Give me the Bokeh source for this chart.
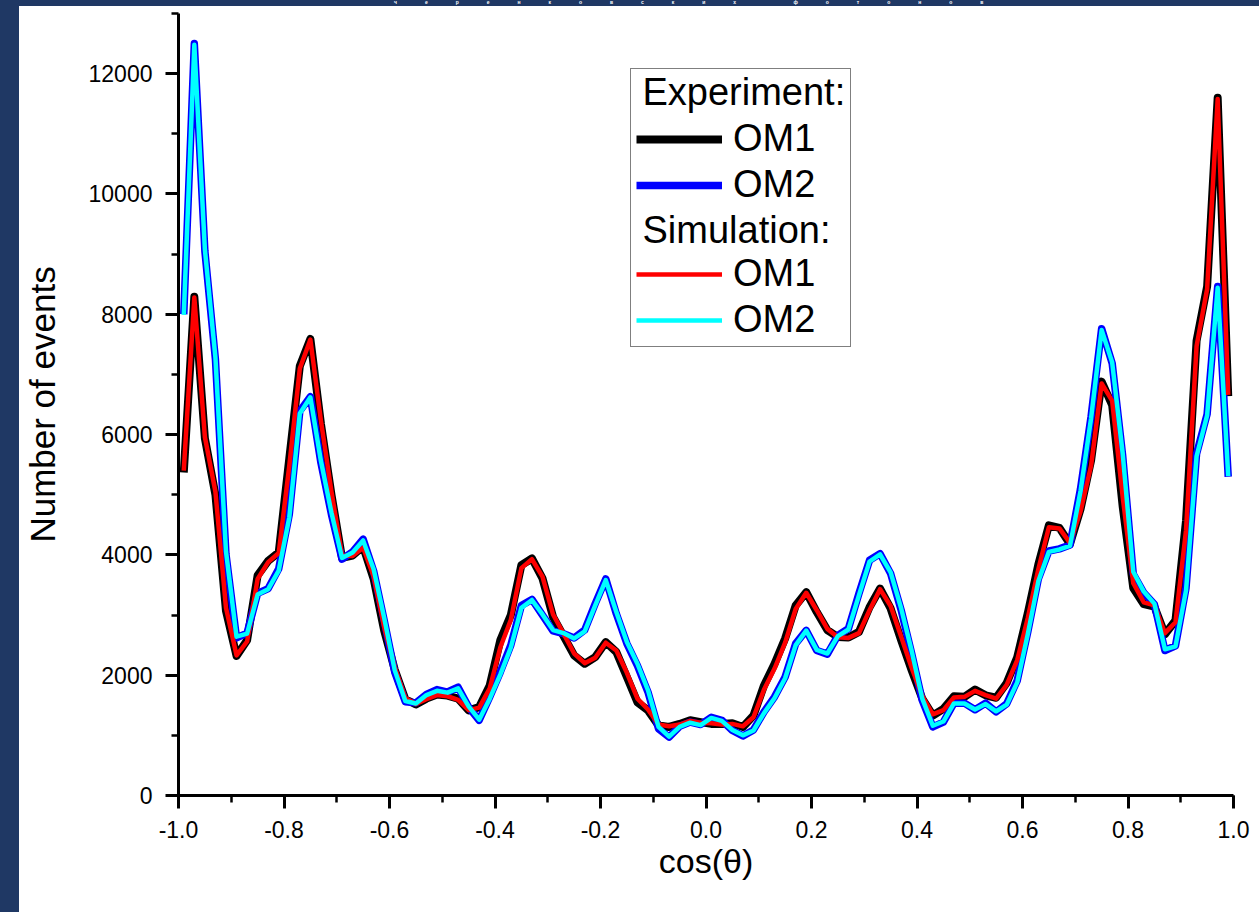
from bokeh.plotting import figure
from bokeh.models import (Range1d, Legend, LegendItem, Label, Div,
                          SingleIntervalTicker, NumeralTickFormatter)
from bokeh.layouts import column, row
from bokeh.embed import file_html
from bokeh.resources import INLINE

# ---------------- data ----------------
cos_theta = [-0.99, -0.97, -0.95, -0.93, -0.91, -0.89, -0.87, -0.85, -0.83, -0.81,
             -0.79, -0.77, -0.75, -0.73, -0.71, -0.69, -0.67, -0.65, -0.63, -0.61,
             -0.59, -0.57, -0.55, -0.53, -0.51, -0.49, -0.47, -0.45, -0.43, -0.41,
             -0.39, -0.37, -0.35, -0.33, -0.31, -0.29, -0.27, -0.25, -0.23, -0.21,
             -0.19, -0.17, -0.15, -0.13, -0.11, -0.09, -0.07, -0.05, -0.03, -0.01,
             0.01, 0.03, 0.05, 0.07, 0.09, 0.11, 0.13, 0.15, 0.17, 0.19,
             0.21, 0.23, 0.25, 0.27, 0.29, 0.31, 0.33, 0.35, 0.37, 0.39,
             0.41, 0.43, 0.45, 0.47, 0.49, 0.51, 0.53, 0.55, 0.57, 0.59,
             0.61, 0.63, 0.65, 0.67, 0.69, 0.71, 0.73, 0.75, 0.77, 0.79,
             0.81, 0.83, 0.85, 0.87, 0.89, 0.91, 0.93, 0.95, 0.97, 0.99]

exp_om1 = [5370, 8290, 5940, 5000, 3070, 2320, 2580, 3660, 3900, 4040,
           5600, 7140, 7590, 6180, 5000, 3950, 3990, 4140, 3600, 2740,
           2090, 1600, 1515, 1610, 1680, 1660, 1610, 1415, 1470, 1830,
           2580, 3000, 3830, 3940, 3610, 2970, 2650, 2330, 2190, 2300,
           2550, 2385, 1970, 1550, 1415, 1165, 1140, 1190, 1250, 1220,
           1190, 1190, 1200, 1140, 1330, 1830, 2190, 2610, 3160, 3380,
           3050, 2750, 2635, 2625, 2720, 3130, 3440, 3110, 2580, 2080,
           1610, 1330, 1440, 1650, 1640, 1760, 1665, 1625, 1870, 2300,
           3030, 3840, 4490, 4450, 4180, 4760, 5570, 6880, 6490, 4800,
           3450, 3180, 3140, 2680, 2910, 4570, 7560, 8460, 11600, 6640]

exp_om2 = [8000, 12500, 9050, 7250, 4010, 2620, 2700, 3360, 3440, 3770,
           4670, 6390, 6630, 5530, 4670, 3930, 4050, 4260, 3730, 2910,
           2050, 1560, 1540, 1680, 1760, 1720, 1800, 1470, 1250, 1640,
           2050, 2500, 3160, 3260, 3000, 2735, 2690, 2620, 2750, 3190,
           3600, 3020, 2525, 2160, 1720, 1110, 970, 1150, 1220, 1180,
           1300, 1250, 1080, 990, 1090, 1390, 1640, 1970, 2525, 2745,
           2410, 2350, 2660, 2775, 3360, 3910, 4020, 3690, 3080, 2360,
           1580, 1140, 1220, 1535, 1535, 1425, 1535, 1390, 1525, 1910,
           2720, 3600, 4065, 4100, 4165, 5100, 6300, 7760, 7185, 5640,
           3680, 3370, 3180, 2410, 2490, 3450, 5680, 6340, 8460, 5300]

sim_om1 = [5400, 8280, 5960, 5050, 3120, 2330, 2560, 3600, 3880, 4030,
           5480, 7100, 7580, 6230, 5050, 3990, 3980, 4120, 3640, 2800,
           2130, 1620, 1520, 1600, 1670, 1650, 1590, 1420, 1460, 1780,
           2460, 2920, 3780, 3930, 3640, 3010, 2690, 2360, 2200, 2290,
           2540, 2410, 2040, 1610, 1430, 1180, 1150, 1180, 1240, 1210,
           1200, 1180, 1190, 1150, 1300, 1760, 2110, 2540, 3100, 3370,
           3080, 2770, 2630, 2620, 2700, 3080, 3430, 3150, 2640, 2120,
           1650, 1350, 1420, 1630, 1640, 1740, 1670, 1610, 1840, 2250,
           2950, 3760, 4460, 4440, 4200, 4720, 5480, 6850, 6560, 4960,
           3530, 3210, 3160, 2700, 2880, 4410, 7470, 8420, 11580, 6660]

sim_om2 = [7990, 12480, 9080, 7280, 4060, 2640, 2690, 3340, 3430, 3740,
           4620, 6350, 6620, 5560, 4700, 3950, 4040, 4240, 3760, 2950,
           2080, 1570, 1530, 1670, 1740, 1710, 1780, 1480, 1260, 1610,
           2010, 2460, 3120, 3250, 3010, 2750, 2700, 2610, 2730, 3160,
           3580, 3050, 2550, 2190, 1750, 1140, 980, 1140, 1210, 1170,
           1290, 1240, 1090, 1000, 1080, 1370, 1620, 1950, 2500, 2740,
           2420, 2360, 2650, 2760, 3330, 3890, 4010, 3710, 3110, 2400,
           1610, 1160, 1230, 1530, 1530, 1430, 1520, 1400, 1510, 1880,
           2680, 3560, 4050, 4090, 4150, 5060, 6270, 7740, 7200, 5680,
           3720, 3390, 3190, 2430, 2480, 3410, 5640, 6320, 8440, 5310]

x_label = "cos(\u03b8)"
y_label = "Number of events"
title_text = "\u0447\u0435\u0440\u0435\u043d\u043a\u043e\u0432\u0441\u043a\u0438\u0445 \u0444\u043e\u0442\u043e\u043d\u043e\u0432"

NAVY = "#1F3864"
FONT = "Liberation Sans"

# ---------------- figure ----------------
p = figure(width=1240, height=906,
           x_range=Range1d(-1.0, 1.0), y_range=Range1d(0, 13000),
           output_backend="svg", toolbar_location=None,
           min_border_left=159, min_border_right=26,
           min_border_top=7, min_border_bottom=117,
           background_fill_color="white", border_fill_color="white")
p.outline_line_color = None
p.xgrid.visible = False
p.ygrid.visible = False

r_exp1 = p.line(cos_theta, exp_om1, line_color="#000000", line_width=8, line_join="round")
r_exp2 = p.line(cos_theta, exp_om2, line_color="#0000FF", line_width=7.5, line_join="round")
r_sim1 = p.line(cos_theta, sim_om1, line_color="#FF0000", line_width=4.5, line_join="round")
r_sim2 = p.line(cos_theta, sim_om2, line_color="#00FFFF", line_width=4.5, line_join="round")
r_blank = p.line([], [], line_alpha=0)

# axes
xa = p.xaxis[0]
ya = p.yaxis[0]
xa.ticker = SingleIntervalTicker(interval=0.2, num_minor_ticks=2)
ya.ticker = SingleIntervalTicker(interval=2000, num_minor_ticks=2)
xa.formatter = NumeralTickFormatter(format="0.0")
ya.formatter = NumeralTickFormatter(format="0")
xa.axis_label = x_label
ya.axis_label = y_label
for ax in (xa, ya):
    ax.axis_line_width = 3
    ax.axis_line_color = "black"
    ax.major_tick_line_width = 3
    ax.minor_tick_line_width = 2.5
    ax.major_tick_line_color = "black"
    ax.minor_tick_line_color = "black"
    ax.major_tick_in = 0
    ax.major_tick_out = 13
    ax.minor_tick_in = 0
    ax.minor_tick_out = 7
    ax.major_label_text_font = FONT
    ax.major_label_text_font_size = "23px"
    ax.major_label_text_color = "black"
    ax.axis_label_text_font = FONT
    ax.axis_label_text_font_style = "normal"
    ax.axis_label_text_color = "black"
xa.major_label_standoff = 12
ya.major_label_standoff = 13
xa.axis_label_text_font_size = "34px"
ya.axis_label_text_font_size = "35px"
xa.axis_label_standoff = 1
ya.axis_label_standoff = 24

# legend (headers drawn as labels on top of a transparent legend box)
legend = Legend(items=[
    LegendItem(label=" ", renderers=[r_blank]),
    LegendItem(label="OM1", renderers=[r_exp1]),
    LegendItem(label="OM2", renderers=[r_exp2]),
    LegendItem(label=" ", renderers=[r_blank]),
    LegendItem(label="OM1", renderers=[r_sim1]),
    LegendItem(label="OM2", renderers=[r_sim2]),
], location=(452, 448))
legend.label_text_font = FONT
legend.label_text_font_size = "38px"
legend.label_text_color = "black"
legend.glyph_width = 86
legend.glyph_height = 40
legend.label_standoff = 11
legend.label_width = 112
legend.padding = 5
legend.spacing = 3
legend.margin = 0
legend.border_line_color = "black"
legend.border_line_width = 1.5
legend.background_fill_alpha = 0.0
p.add_layout(legend, "center")

for txt, yv in (("Experiment:", 11687), ("Simulation:", 9409)):
    p.add_layout(Label(x=-0.1204, y=yv, text=txt, text_font=FONT,
                       text_font_size="38px", text_color="black",
                       text_baseline="middle", text_align="left"))

# ---------------- slide frame ----------------
top = Div(text=('<div style="position:absolute; left:394px; top:0px; '
                'font-family:\'Liberation Sans\'; font-weight:bold; font-size:5px; '
                'line-height:5px; letter-spacing:28px; color:white; white-space:nowrap;">'
                + title_text + '</div>'),
          width=1259, height=6, margin=0,
          styles={"background-color": NAVY, "overflow": "visible",
                  "padding": "0px"})
left = Div(text="", width=19, height=906, margin=0,
           styles={"background-color": NAVY})

layout = column(top, row(left, p, spacing=0), spacing=0)

open("out.html", "w").write(file_html(layout, INLINE))
